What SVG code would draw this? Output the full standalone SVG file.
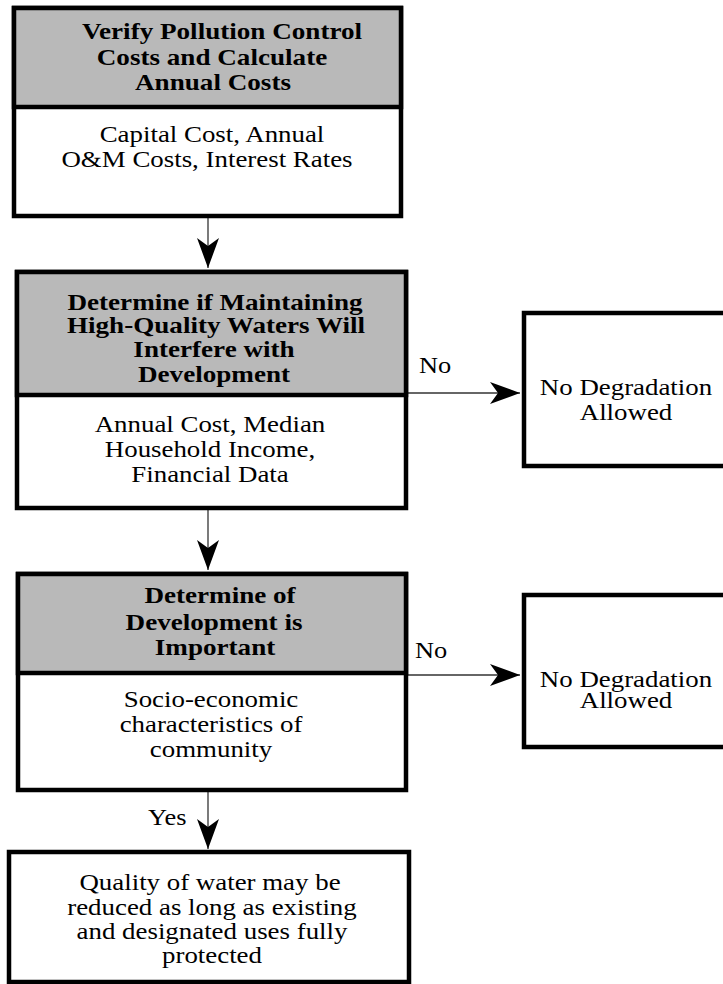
<svg xmlns="http://www.w3.org/2000/svg" width="723" height="984" viewBox="0 0 723 984">
<defs>
<style>
.box{fill:#fff;stroke:#000;stroke-width:4.5}
.hdr{fill:#b9b9b9;stroke:#000;stroke-width:4.5}
.h{font-family:"Liberation Serif","Times New Roman",serif;font-weight:bold;font-size:24px;text-anchor:middle;fill:#000}
.t{font-family:"Liberation Serif","Times New Roman",serif;font-size:24px;text-anchor:middle;fill:#000}
.lbl{font-family:"Liberation Serif","Times New Roman",serif;font-size:24px;fill:#000}
.c{stroke:#333;stroke-width:1.3;fill:none}
</style>
<marker id="ah" viewBox="0 0 30 22" refX="30" refY="11" markerWidth="30" markerHeight="22" markerUnits="userSpaceOnUse" orient="auto">
<path d="M0,0 L30,11 L0,22 L8,11 Z" fill="#000"/>
</marker>
</defs>
<rect width="723" height="984" fill="#fff"/>

<g id="connectors">
<line class="c" x1="208" y1="218" x2="208" y2="268" marker-end="url(#ah)"/>
<line class="c" x1="208" y1="510" x2="208" y2="570" marker-end="url(#ah)"/>
<line class="c" x1="208" y1="792" x2="208" y2="849" marker-end="url(#ah)"/>
<line class="c" x1="406" y1="393" x2="520" y2="393" marker-end="url(#ah)"/>
<line class="c" x1="406" y1="675" x2="520" y2="675" marker-end="url(#ah)"/>
<text class="lbl" transform="translate(148,825) scale(1.1,1)">Yes</text>
<text class="lbl" transform="translate(419,373) scale(1.1,1)">No</text>
<text class="lbl" transform="translate(415,658) scale(1.1,1)">No</text>
</g>

<g id="node1">
<rect class="box" x="14" y="8" width="387" height="208"/>
<rect class="hdr" x="14" y="8" width="387" height="99"/>
<text class="h" transform="translate(222,39) scale(1.13,1)">Verify Pollution Control</text>
<text class="h" transform="translate(212,65) scale(1.13,1)">Costs and Calculate</text>
<text class="h" transform="translate(213,90) scale(1.13,1)">Annual Costs</text>
<text class="t" transform="translate(212,142) scale(1.12,1)">Capital Cost, Annual</text>
<text class="t" transform="translate(207,167) scale(1.12,1)">O&amp;M Costs, Interest Rates</text>
</g>

<g id="node2">
<rect class="box" x="17" y="272" width="389" height="236"/>
<rect class="hdr" x="17" y="272" width="389" height="123"/>
<text class="h" transform="translate(215,310) scale(1.13,1)">Determine if Maintaining</text>
<text class="h" transform="translate(216,333) scale(1.13,1)">High-Quality Waters Will</text>
<text class="h" transform="translate(214,357) scale(1.13,1)">Interfere with</text>
<text class="h" transform="translate(214,382) scale(1.13,1)">Development</text>
<text class="t" transform="translate(210,432) scale(1.12,1)">Annual Cost, Median</text>
<text class="t" transform="translate(210,457) scale(1.12,1)">Household Income,</text>
<text class="t" transform="translate(210,482) scale(1.12,1)">Financial Data</text>
</g>

<g id="node3">
<rect class="box" x="18" y="574" width="388" height="216"/>
<rect class="hdr" x="18" y="574" width="388" height="99"/>
<text class="h" transform="translate(220,603) scale(1.13,1)">Determine of</text>
<text class="h" transform="translate(214,630) scale(1.13,1)">Development is</text>
<text class="h" transform="translate(215,655) scale(1.13,1)">Important</text>
<text class="t" transform="translate(211,707) scale(1.12,1)">Socio-economic</text>
<text class="t" transform="translate(211,732) scale(1.12,1)">characteristics of</text>
<text class="t" transform="translate(211,757) scale(1.12,1)">community</text>
</g>

<g id="node4">
<rect class="box" x="9" y="852" width="400" height="130"/>
<text class="t" transform="translate(210,890) scale(1.12,1)">Quality of water may be</text>
<text class="t" transform="translate(212,915) scale(1.12,1)">reduced as long as existing</text>
<text class="t" transform="translate(212,939) scale(1.12,1)">and designated uses fully</text>
<text class="t" transform="translate(212,963) scale(1.12,1)">protected</text>
</g>

<g id="node5">
<rect class="box" x="524" y="313" width="210" height="153"/>
<text class="t" transform="translate(626,395) scale(1.12,1)">No Degradation</text>
<text class="t" transform="translate(626,420) scale(1.12,1)">Allowed</text>
</g>

<g id="node6">
<rect class="box" x="524" y="595" width="210" height="152"/>
<text class="t" transform="translate(626,687) scale(1.12,1)">No Degradation</text>
<text class="t" transform="translate(626,708) scale(1.12,1)">Allowed</text>
</g>
</svg>
